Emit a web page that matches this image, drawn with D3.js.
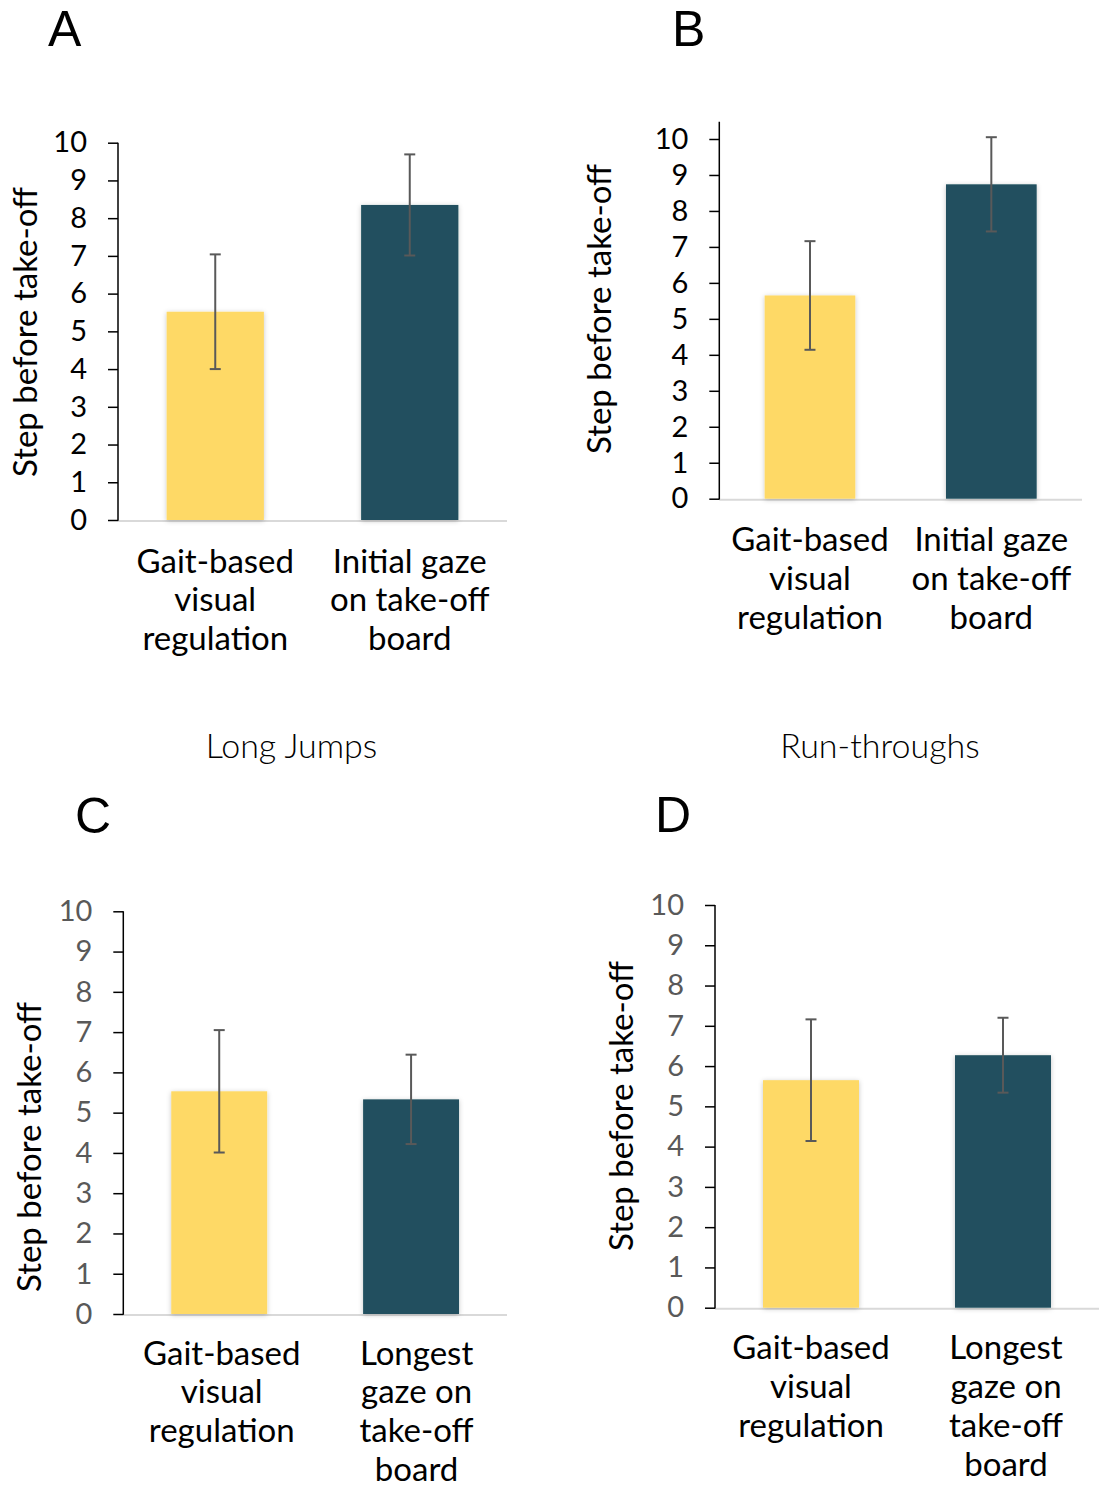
<!DOCTYPE html>
<html>
<head>
<meta charset="utf-8">
<script src="https://cdn.jsdelivr.net/npm/d3@7"></script>
<style>
  body { margin: 0; background: #fff; }
  svg { display: block; }
  text { font-family: Lato, "Open Sans", sans-serif; }
</style>
</head>
<body>
<script>
// values
var letters = ['A', 'B', 'C', 'D']
var subtitles = ['Long Jumps', 'Run-throughs']
var yTicks = [0, 1, 2, 3, 4, 5, 6, 7, 8, 9, 10]
var yLabel = 'Step before take-off'

var catsInitial = [['Gait-based', 'visual', 'regulation'], ['Initial gaze', 'on take-off', 'board']]
var catsLongest = [['Gait-based', 'visual', 'regulation'], ['Longest', 'gaze on', 'take-off', 'board']]

var meansA = [5.52, 8.35]
var errA = [1.52, 1.34]
var meansB = [5.65, 8.74]
var errB = [1.51, 1.31]
var meansC = [5.53, 5.33]
var errC = [1.52, 1.11]
var meansD = [5.65, 6.27]
var errD = [1.51, 0.93]

var barColors = ['#FED966', '#20505E']

var W = 1099, H = 1486

var svg = d3.select('body').append('svg')
    .attr('width', W)
    .attr('height', H)

var defs = svg.append('defs')
defs.append('filter')
    .attr('id', 'shadow')
    .attr('x', '-20%').attr('y', '-20%')
    .attr('width', '140%').attr('height', '140%')
    .append('feDropShadow')
    .attr('dx', 0).attr('dy', 1)
    .attr('stdDeviation', 2.5)
    .attr('flood-color', '#000')
    .attr('flood-opacity', 0.22)

// panel placement (pixels)
var panels = [
    { letter: letters[0], means: meansA, errs: errA, cats: catsInitial,
      left: 118, right: 507, y0: 520, y10: 142.7, top: 10, catY: 52.5, catDx: [0, 0],
      letterX: 48, letterY: 46, labelX: 37, labelY: 332, tickColor: '#000' },
    { letter: letters[1], means: meansB, errs: errB, cats: catsInitial,
      left: 719.3, right: 1082, y0: 498.7, y10: 139, top: 10.48, catY: 52.5, catDx: [0, 0],
      letterX: 672, letterY: 46, labelX: 611, labelY: 309, tickColor: '#000' },
    { letter: letters[2], means: meansC, errs: errC, cats: catsLongest,
      left: 123.3, right: 507, y0: 1314, y10: 911.3, top: 10, catY: 50.5, catDx: [2.5, 5.5],
      letterX: 75, letterY: 833, labelX: 41, labelY: 1147, tickColor: '#595959' },
    { letter: letters[3], means: meansD, errs: errD, cats: catsLongest,
      left: 715, right: 1099, y0: 1307.7, y10: 905, top: 10, catY: 51.5, catDx: [0, 3],
      letterX: 655, letterY: 832, labelX: 633, labelY: 1106, tickColor: '#595959' }
]

panels.forEach(drawPanel)

svg.selectAll('.subtitle')
    .data(subtitles)
    .enter().append('text')
    .attr('class', 'subtitle')
    .attr('x', function (d, i) { return i === 0 ? 291.5 : 880 })
    .attr('y', 758)
    .attr('text-anchor', 'middle')
    .style('font-size', '34px')
    .style('font-weight', 300)
    .style('fill', '#000')
    .text(function (d) { return d })

function drawPanel(p) {
    var g = svg.append('g').attr('class', 'panel')

    var y = d3.scaleLinear()
        .domain([0, 10])
        .range([p.y0, p.y10])

    var x = d3.scaleBand()
        .domain(d3.range(p.means.length))
        .range([p.left, p.right])
        .paddingInner(0.5)
        .paddingOuter(0.25)

    // baseline
    g.append('line')
        .attr('x1', p.left).attr('x2', p.right)
        .attr('y1', y(0) + 1).attr('y2', y(0) + 1)
        .style('stroke', '#D9D9D9')
        .style('stroke-width', 2)

    var yAxis = d3.axisLeft(y)
        .tickValues(yTicks)
        .tickSize(10)
        .tickPadding(21)
        .tickFormat(d3.format('d'))

    var gy = g.append('g')
        .attr('transform', 'translate(' + p.left + ',0)')
        .call(yAxis)
    gy.select('.domain').remove()
    gy.selectAll('.tick line')
        .style('stroke', '#000')
        .style('stroke-width', 1.5)
    gy.selectAll('.tick text')
        .style('font-family', 'Lato, sans-serif')
        .style('font-size', '29px')
        .style('fill', p.tickColor)

    g.append('line')
        .attr('x1', p.left).attr('x2', p.left)
        .attr('y1', y(0) + 0.75).attr('y2', y(p.top))
        .style('stroke', '#000')
        .style('stroke-width', 1.5)

    g.selectAll('.bar')
        .data(p.means)
        .enter().append('rect')
        .attr('class', 'bar')
        .attr('x', function (d, i) { return x(i) })
        .attr('width', x.bandwidth())
        .attr('y', function (d) { return y(d) })
        .attr('height', function (d) { return y(0) - y(d) })
        .attr('filter', 'url(#shadow)')
        .style('fill', function (d, i) { return barColors[i] })

    var eb = g.selectAll('.err')
        .data(p.means)
        .enter().append('g')
        .attr('class', 'err')
        .style('stroke', '#595959')
        .style('stroke-width', 2)

    eb.append('line')
        .attr('x1', function (d, i) { return x(i) + x.bandwidth() / 2 })
        .attr('x2', function (d, i) { return x(i) + x.bandwidth() / 2 })
        .attr('y1', function (d, i) { return y(d + p.errs[i]) })
        .attr('y2', function (d, i) { return y(d - p.errs[i]) })

    ;[1, -1].forEach(function (s) {
        eb.append('line')
            .attr('x1', function (d, i) { return x(i) + x.bandwidth() / 2 - 5.5 })
            .attr('x2', function (d, i) { return x(i) + x.bandwidth() / 2 + 5.5 })
            .attr('y1', function (d, i) { return y(d + s * p.errs[i]) })
            .attr('y2', function (d, i) { return y(d + s * p.errs[i]) })
    })

    // category labels
    var cat = g.selectAll('.cat')
        .data(p.cats)
        .enter().append('text')
        .attr('class', 'cat')
        .attr('text-anchor', 'middle')
        .style('font-size', '33px')
        .style('fill', '#000')

    cat.selectAll('tspan')
        .data(function (d, i) { return d.map(function (t) { return { t: t, i: i } }) })
        .enter().append('tspan')
        .attr('x', function (d) { return x(d.i) + x.bandwidth() / 2 + p.catDx[d.i] })
        .attr('y', function (d, j) { return y(0) + p.catY + j * 38.8 })
        .text(function (d) { return d.t })

    g.append('text')
        .attr('transform', 'translate(' + p.labelX + ',' + p.labelY + ') rotate(-90)')
        .attr('text-anchor', 'middle')
        .style('font-size', '33px')
        .style('fill', '#000')
        .text(yLabel)

    g.append('text')
        .attr('x', p.letterX)
        .attr('y', p.letterY)
        .style('font-family', '"Liberation Sans", Arial, sans-serif')
        .style('font-size', '50px')
        .style('fill', '#000')
        .text(p.letter)
}
</script>
</body>
</html>
